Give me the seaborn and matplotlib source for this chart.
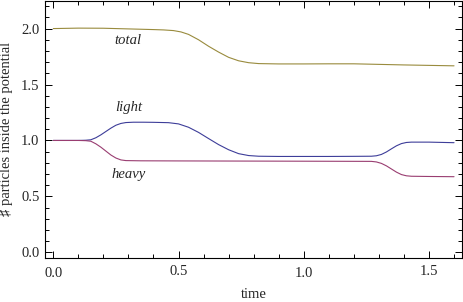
import numpy as np
import pandas as pd
import seaborn as sns
import matplotlib.pyplot as plt
from matplotlib.ticker import MultipleLocator

# values
time_light = [0.0, 0.05, 0.10, 0.13, 0.15, 0.17, 0.19, 0.21, 0.23, 0.25, 0.27, 0.29,
              0.32, 0.36, 0.40, 0.46, 0.50, 0.54, 0.58, 0.62, 0.66, 0.70, 0.74, 0.78,
              0.82, 0.90, 1.00, 1.10, 1.20, 1.27, 1.29, 1.31, 1.33, 1.35, 1.37, 1.39,
              1.41, 1.43, 1.50, 1.60]
light = [1.000, 1.000, 1.000, 1.002, 1.006, 1.024, 1.050, 1.080, 1.110, 1.136, 1.152, 1.160,
         1.163, 1.163, 1.162, 1.159, 1.148, 1.118, 1.072, 1.017, 0.963, 0.917, 0.882, 0.865,
         0.859, 0.857, 0.857, 0.857, 0.858, 0.859, 0.863, 0.875, 0.897, 0.925, 0.952, 0.972,
         0.982, 0.985, 0.985, 0.980]

time_heavy = [0.0, 0.05, 0.10, 0.13, 0.15, 0.17, 0.19, 0.21, 0.23, 0.25, 0.27, 0.29,
              0.35, 0.50, 0.70, 0.90, 1.10, 1.27, 1.29, 1.31, 1.33, 1.35, 1.37, 1.39,
              1.41, 1.43, 1.50, 1.60]
heavy = [1.000, 1.000, 1.000, 0.998, 0.993, 0.970, 0.940, 0.905, 0.870, 0.843, 0.826, 0.820,
         0.818, 0.817, 0.816, 0.815, 0.814, 0.813, 0.808, 0.795, 0.773, 0.745, 0.717, 0.695,
         0.684, 0.680, 0.678, 0.676]

time_total = [0.0, 0.10, 0.20, 0.30, 0.40, 0.44, 0.48, 0.51, 0.54, 0.58, 0.62, 0.66, 0.70,
              0.74, 0.78, 0.82, 0.90, 1.00, 1.10, 1.20, 1.30, 1.40, 1.50, 1.60]
total = [2.000, 2.004, 2.003, 1.997, 1.991, 1.988, 1.982, 1.970, 1.948, 1.900, 1.842, 1.790,
         1.743, 1.712, 1.695, 1.687, 1.684, 1.684, 1.685, 1.685, 1.680, 1.675, 1.671, 1.667]

colors = {"light": (0.24, 0.24, 0.6), "heavy": (0.6, 0.24, 0.4428), "total": (0.6, 0.547, 0.24)}

df = pd.concat([
    pd.DataFrame({"time": time_light, "n": light, "kind": "light"}),
    pd.DataFrame({"time": time_heavy, "n": heavy, "kind": "heavy"}),
    pd.DataFrame({"time": time_total, "n": total, "kind": "total"}),
])

sns.set_style("ticks")
plt.rcParams["font.family"] = ["Liberation Serif", "DejaVu Serif"]
fs = 10.5

fig = plt.figure(figsize=(4.63, 3.02), dpi=100)
ax = fig.add_axes([45 / 463, 1 - 257.7 / 302, (462.3 - 45) / 463, 257.7 / 302 - 0.002])

sns.lineplot(data=df, x="time", y="n", hue="kind", palette=colors, linewidth=0.8,
             legend=False, ax=ax, sort=False, estimator=None)

ax.set_xlim(-0.033, 1.633)
ax.set_ylim(-0.048, 2.25)
ax.xaxis.set_major_locator(MultipleLocator(0.5))
ax.xaxis.set_minor_locator(MultipleLocator(0.1))
ax.yaxis.set_major_locator(MultipleLocator(0.5))
ax.yaxis.set_minor_locator(MultipleLocator(0.1))
ax.xaxis.set_major_formatter(plt.FuncFormatter(lambda v, p: f"{v:.1f}"))
ax.yaxis.set_major_formatter(plt.FuncFormatter(lambda v, p: f"{v:.1f}"))
ax.tick_params(which="both", direction="in", top=True, right=True, width=0.7, color="black",
               labelsize=fs)
ax.tick_params(which="major", length=5)
ax.tick_params(which="minor", length=3)
ax.tick_params(axis="x", which="major", pad=5)
ax.tick_params(axis="y", which="major", pad=4)
for sp in ax.spines.values():
    sp.set_linewidth(0.8)
    sp.set_color("black")

fig.canvas.draw()
for i, tick in enumerate(ax.xaxis.get_major_ticks()):
    if i % 2 == 1:
        tick.set_pad(6.5)

ax.set_xlabel("time", fontsize=fs, labelpad=6)
ax.set_ylabel("\u266f particles inside the potential", fontsize=fs, labelpad=6)

ax.text(0.30, 1.895, "total", style="italic", ha="center", va="center", fontsize=fs)
ax.text(0.30, 1.297, "light", style="italic", ha="center", va="center", fontsize=fs)
ax.text(0.30, 0.696, "heavy", style="italic", ha="center", va="center", fontsize=fs)

fig.savefig("out.png", dpi=100)
